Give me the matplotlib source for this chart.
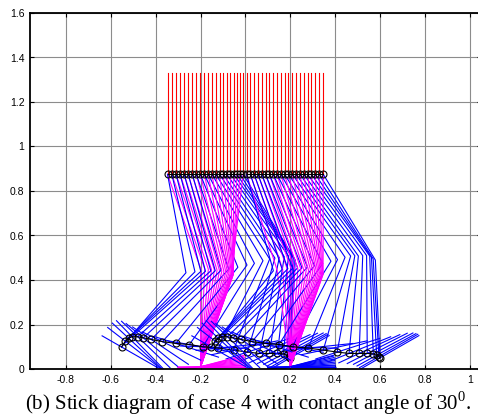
import numpy as np
import matplotlib
matplotlib.use("Agg")
import matplotlib.pyplot as plt

plt.rcParams['mathtext.fontset'] = 'custom'
plt.rcParams['mathtext.rm'] = 'Liberation Serif'

# hip x for every frame of the two steps
hip_x_step1 = [-0.347, -0.328, -0.309, -0.291, -0.273, -0.255, -0.237, -0.219, -0.201, -0.183, -0.166,
               -0.149, -0.132, -0.115, -0.099, -0.083, -0.067, -0.052, -0.038, -0.024, -0.010]
hip_x_step2 = [0.005, 0.022, 0.039, 0.056, 0.073, 0.090, 0.107, 0.124, 0.141, 0.158, 0.175,
               0.192, 0.209, 0.226, 0.243, 0.260, 0.277, 0.294, 0.311, 0.328, 0.347]
hip_y = 0.875
torso_top = 1.33

# stance ankle of each step
stance_ankle_x = [-0.2, 0.2]
stance_ankle_y = 0.01
stance_foot_color = ['magenta', 'blue']

# swing ankle path, x relative to the stance ankle of the step
swing_dx = [-0.352, -0.335, -0.320, -0.305, -0.280, -0.255, -0.220, -0.170, -0.110, -0.050, 0.010,
            0.080, 0.147, 0.209, 0.262, 0.307, 0.343, 0.370, 0.385, 0.395, 0.400]
swing_y = [0.099, 0.125, 0.138, 0.145, 0.145, 0.140, 0.133, 0.123, 0.115, 0.110, 0.100,
           0.094, 0.085, 0.076, 0.070, 0.070, 0.070, 0.068, 0.062, 0.056, 0.050]
# foot angles (deg, toe up positive)
swing_foot_deg = [-30, -38, -43, -46, -44, -40, -34, -26, -18, -10, -2,
                  6, 12, 18, 22, 25, 27, 28, 29, 30, 30]
stance_foot_deg = [0, 0, 0, 0, 0, 0, 0, 0, 0, 0, 0, 0, 1, 2, 4, 6, 8, 10, 12, 14, 15]

thigh, shank = 0.45, 0.44
heel_len, toe_len = 0.10, 0.20


def knee_of(hx, hy, ax, ay):
    dx, dy = ax - hx, ay - hy
    d = min(np.hypot(dx, dy), thigh + shank - 1e-6)
    a = (thigh**2 - shank**2 + d**2) / (2 * d)
    h = np.sqrt(max(thigh**2 - a**2, 0.0))
    ux, uy = dx / d, dy / d
    return hx + a * ux - h * uy, hy + a * uy + h * ux


def foot_of(ax, ay, deg):
    c, s = np.cos(np.radians(deg)), np.sin(np.radians(deg))
    return [ax - heel_len * c, ax + toe_len * c], [ay - heel_len * s, ay + toe_len * s]


fig = plt.figure(figsize=(4.78, 4.19), dpi=100)
ax = fig.add_axes([30 / 478, 50 / 419, 451 / 478, 356 / 419])

lw = 0.8
for step, hips in enumerate([hip_x_step1, hip_x_step2]):
    sx = stance_ankle_x[step]
    ankle_x = [sx + d for d in swing_dx]
    for i, hx in enumerate(hips):
        # stance leg
        kx, ky = knee_of(hx, hip_y, sx, stance_ankle_y)
        ax.plot([hx, kx, sx], [hip_y, ky, stance_ankle_y], color='magenta', lw=lw)
        fx, fy = foot_of(sx, stance_ankle_y, stance_foot_deg[i])
        ax.plot(fx, fy, color=stance_foot_color[step], lw=lw)
        # swing leg
        kx, ky = knee_of(hx, hip_y, ankle_x[i], swing_y[i])
        ax.plot([hx, kx, ankle_x[i]], [hip_y, ky, swing_y[i]], color='blue', lw=lw)
        fx, fy = foot_of(ankle_x[i], swing_y[i], swing_foot_deg[i])
        ax.plot(fx, fy, color='blue', lw=lw)
        # torso
        ax.plot([hx, hx], [hip_y, torso_top], color='red', lw=lw)
    ax.plot(hips, [hip_y] * len(hips), 'o-', color='black', mfc='none', ms=5, mew=0.8, lw=0.8)
    ax.plot(ankle_x, swing_y, 'o-', color='black', mfc='none', ms=5, mew=0.8, lw=0.8)

ax.set_xlim(-0.96, 1.05)
ax.set_ylim(0, 1.6)
ax.set_xticks(np.arange(-0.8, 1.01, 0.2))
ax.set_xticklabels(['-0.8', '-0.6', '-0.4', '-0.2', '0', '0.2', '0.4', '0.6', '0.8', '1'])
ax.set_yticks(np.arange(0, 1.61, 0.2))
ax.set_yticklabels(['0', '0.2', '0.4', '0.6', '0.8', '1', '1.2', '1.4', '1.6'])
ax.tick_params(direction='in', length=3, top=True, right=True, labelsize=7.5, pad=4)
for lab in ax.get_xticklabels() + ax.get_yticklabels():
    lab.set_family('Liberation Sans')
ax.grid(True, color='#8c8c8c', lw=0.8)
ax.set_axisbelow(True)
for sp in ax.spines.values():
    sp.set_linewidth(1.3)

fig.text(0.519, 0.038, "(b) Stick diagram of case 4 with contact angle of 30$^{0}$.",
         ha='center', va='center', fontsize=15, family='Liberation Serif')

fig.savefig('out.png', dpi=100)
